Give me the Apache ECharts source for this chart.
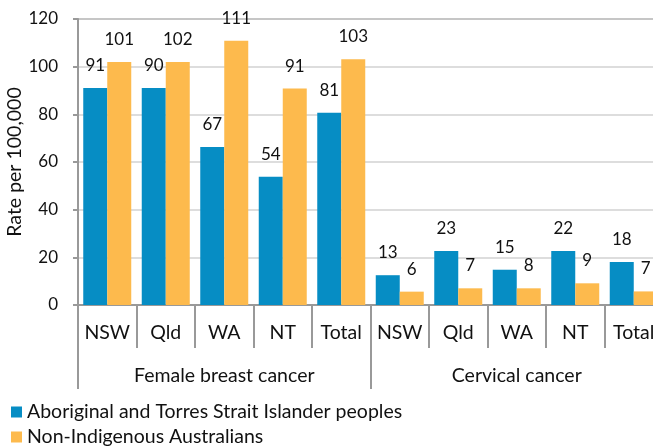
<!DOCTYPE html>
<html>
<head>
<meta charset="utf-8">
<script src="https://cdn.jsdelivr.net/npm/echarts@6/dist/echarts.min.js"></script>
<style>html,body{margin:0;padding:0;background:#fff}#c{width:653px;height:448px}</style>
</head>
<body>
<div id="c"></div>
<script>
var categories = ['NSW','Qld','WA','NT','Total','NSW','Qld','WA','NT','Total'];
var groups = ['Female breast cancer','Cervical cancer'];
var seriesNames = ['Aboriginal and Torres Strait Islander peoples','Non-Indigenous Australians'];
var indigenousValues = [91, 91, 66.3, 53.8, 80.7, 12.5, 22.7, 14.8, 22.7, 18.0];
var nonIndigenousValues = [102, 102, 110.9, 90.8, 103.1, 5.6, 7.0, 7.0, 9.1, 5.7];
var indigenousLabels = ['91','90','67','54','81','13','23','15','22','18'];
var nonIndigenousLabels = ['101','102','111','91','103','6','7','8','9','7'];
var yTicks = [0,20,40,60,80,100,120];

var FONT = 'Lato';
var NUM = 17, TXT = 19.5;
var chart = echarts.init(document.getElementById('c'), null, {renderer:'canvas'});
function lab(arr){
  return {show:true, position:'top', distance:14, fontFamily:FONT, fontSize:NUM, color:'#111',
    formatter:function(p){return arr[p.dataIndex];}};
}
function leg(i, top){
  return {orient:'vertical', left:11, top:top, padding:0, itemWidth:11, itemHeight:11,
    icon:'rect', data:[seriesNames[i]], selectedMode:false,
    textStyle:{fontFamily:FONT, fontSize:TXT, color:'#111'}};
}
chart.setOption({
  animation:false,
  textStyle:{fontFamily:FONT},
  grid:{left:78, top:19, bottom:143, right:-10, containLabel:false, outerBoundsMode:'none'},
  legend:[leg(0, 402), leg(1, 427)],
  xAxis:[{
    type:'category', data:categories, position:'bottom',
    axisLine:{show:true, lineStyle:{color:'#999', width:2}},
    axisTick:{show:true, interval:0, length:43, lineStyle:{color:'#999', width:2}},
    axisLabel:{interval:0, margin:18, fontFamily:FONT, fontSize:TXT, color:'#111'}
  },{
    type:'category', data:groups, position:'bottom',
    axisLine:{show:false},
    axisTick:{show:true, interval:0, length:84, lineStyle:{color:'#999', width:2}},
    axisLabel:{interval:0, margin:61, fontFamily:FONT, fontSize:TXT, color:'#111'}
  }],
  yAxis:{
    type:'value', min:0, max:120, interval:20,
    name:'Rate per 100,000', nameLocation:'middle', nameGap:53, nameRotate:90,
    nameMoveOverlap:false,
    nameTextStyle:{fontFamily:FONT, fontSize:TXT, color:'#111'},
    axisLine:{show:true, lineStyle:{color:'#999', width:2}},
    axisTick:{show:true, length:5, lineStyle:{color:'#999', width:2}},
    axisLabel:{margin:20, fontFamily:FONT, fontSize:NUM, color:'#111',
      formatter:function(v){return yTicks.indexOf(v)>=0 ? String(v) : '';}},
    splitLine:{show:true, lineStyle:{color:['#dddddd','#dddddd','#dddddd','#dddddd','#dddddd','#dddddd','#c6c6c6'], width:2}}
  },
  series:[{
    name:seriesNames[0], type:'bar', xAxisIndex:0, data:indigenousValues,
    barWidth:24, barGap:'0%', itemStyle:{color:'#068dc4'}, label:lab(indigenousLabels)
  },{
    name:seriesNames[1], type:'bar', xAxisIndex:0, data:nonIndigenousValues,
    barWidth:24, barGap:'0%', itemStyle:{color:'#fdba4d'}, label:lab(nonIndigenousLabels)
  }]
});
</script>
</body>
</html>
